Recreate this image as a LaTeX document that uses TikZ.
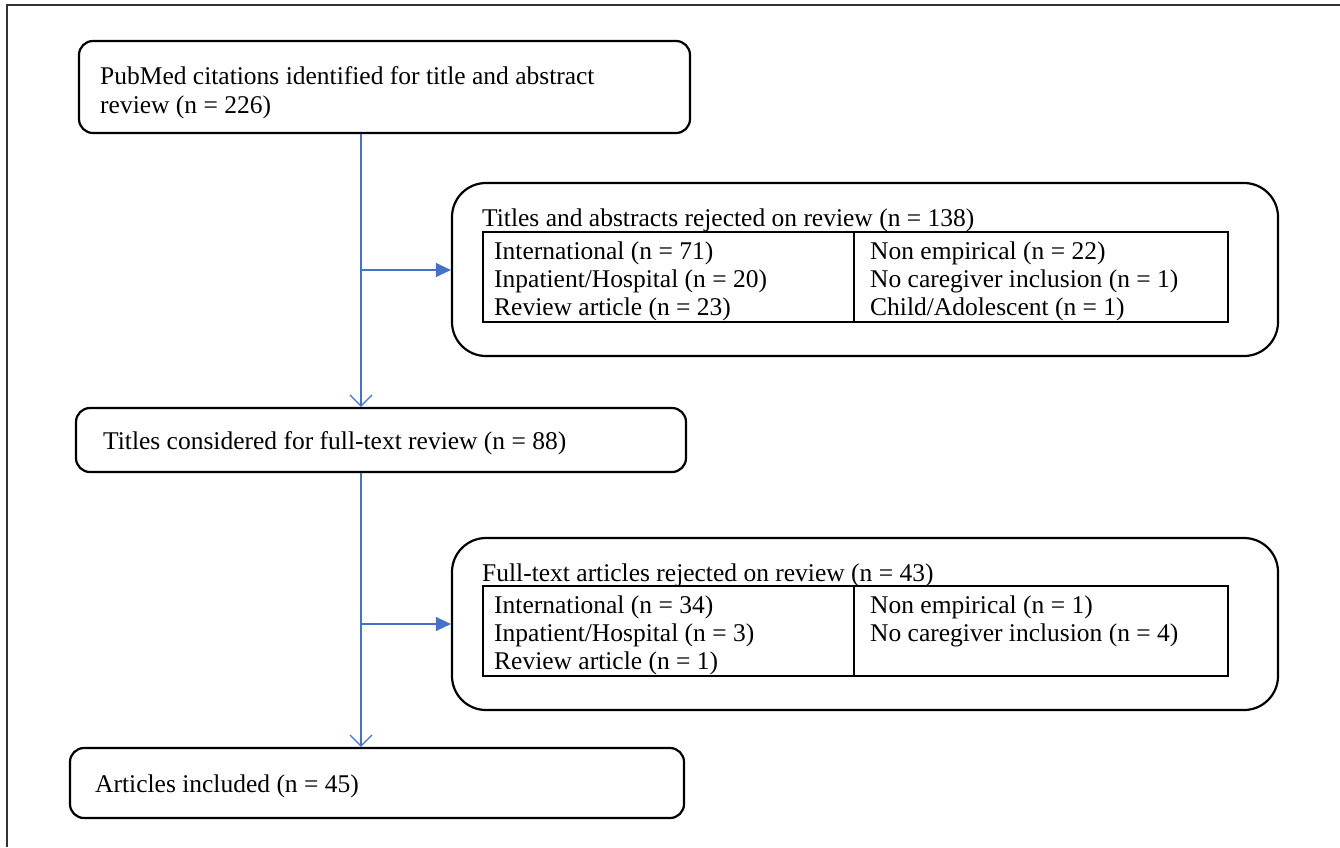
\documentclass[tikz,border=0pt]{standalone}
\usepackage{fontspec}
\setmainfont{Liberation Serif}
\usetikzlibrary{arrows.meta}
\definecolor{flowblue}{HTML}{4472C4}
\definecolor{framegray}{HTML}{333333}
\begin{document}
\begin{tikzpicture}[x=1pt,y=-1pt,
  box/.style={draw=black, line width=2.2pt, rounded corners=14pt, inner sep=0pt},
  bigbox/.style={draw=black, line width=2.2pt, rounded corners=34pt, inner sep=0pt},
  tbl/.style={draw=black, line width=1.3pt, inner sep=0pt},
  txt/.style={anchor=base west, inner sep=0pt, font=\fontsize{25.5}{29}\selectfont},
  flow/.style={draw=flowblue, line width=1.3pt},
  vhead/.style={-{Straight Barb[length=11pt,width=22pt,line width=1.3pt]}},
  fhead/.style={-{Triangle[length=15pt,width=14pt]}}
]
\useasboundingbox (0,0) rectangle (1340,847);
\draw[framegray, line width=1.5pt] (7,847) -- (7,5) -- (1340,5);

% main boxes
\node[box, minimum width=611pt, minimum height=92pt] (box1) at (384.5,87) {};
\node[box, minimum width=610pt, minimum height=64pt] (box2) at (381,440) {};
\node[box, minimum width=614pt, minimum height=70pt] (box5) at (377,783) {};
\node[bigbox, minimum width=826pt, minimum height=173pt] (box3) at (865,269.5) {};
\node[bigbox, minimum width=826pt, minimum height=172pt] (box4) at (865,624) {};

% tables
\node[tbl, minimum width=745pt, minimum height=90pt] (tab1) at (855.5,277) {};
\node[tbl, minimum width=745pt, minimum height=90pt] (tab2) at (855.5,631) {};
\draw[line width=1.3pt] (854,232) -- (854,322);
\draw[line width=1.3pt] (854,586) -- (854,676);

% texts
\node[txt] (t1a) at (100,84) {PubMed citations identified for title and abstract};
\node[txt] (t1b) at (100,113) {review (n = 226)};
\node[txt] (t2) at (103,449) {Titles considered for full-text review (n = 88)};
\node[txt] (t5) at (95,792) {Articles included (n = 45)};

\node[txt] (h3) at (482,226) {Titles and abstracts rejected on review (n = 138)};
\node[txt] (a1) at (494,259) {International (n = 71)};
\node[txt] (a2) at (494,287) {Inpatient/Hospital (n = 20)};
\node[txt] (a3) at (494,315) {Review article (n = 23)};
\node[txt] (b1) at (870,259) {Non empirical (n = 22)};
\node[txt] (b2) at (870,287) {No caregiver inclusion (n = 1)};
\node[txt] (b3) at (870,315) {Child/Adolescent (n = 1)};

\node[txt] (h4) at (482,581) {Full-text articles rejected on review (n = 43)};
\node[txt] (c1) at (494,613) {International (n = 34)};
\node[txt] (c2) at (494,641) {Inpatient/Hospital (n = 3)};
\node[txt] (c3) at (494,669) {Review article (n = 1)};
\node[txt] (d1) at (870,613) {Non empirical (n = 1)};
\node[txt] (d2) at (870,641) {No caregiver inclusion (n = 4)};

% connectors
\coordinate (j1) at (361,270);
\coordinate (j2) at (361,624);
\draw[flow, vhead] (box1.south -| j1) -- (box2.north -| j1);
\draw[flow, fhead] (j1) -- (box3.west |- j1);
\draw[flow, vhead] (box2.south -| j2) -- (box5.north -| j2);
\draw[flow, fhead] (j2) -- (box4.west |- j2);
\end{tikzpicture}
\end{document}
